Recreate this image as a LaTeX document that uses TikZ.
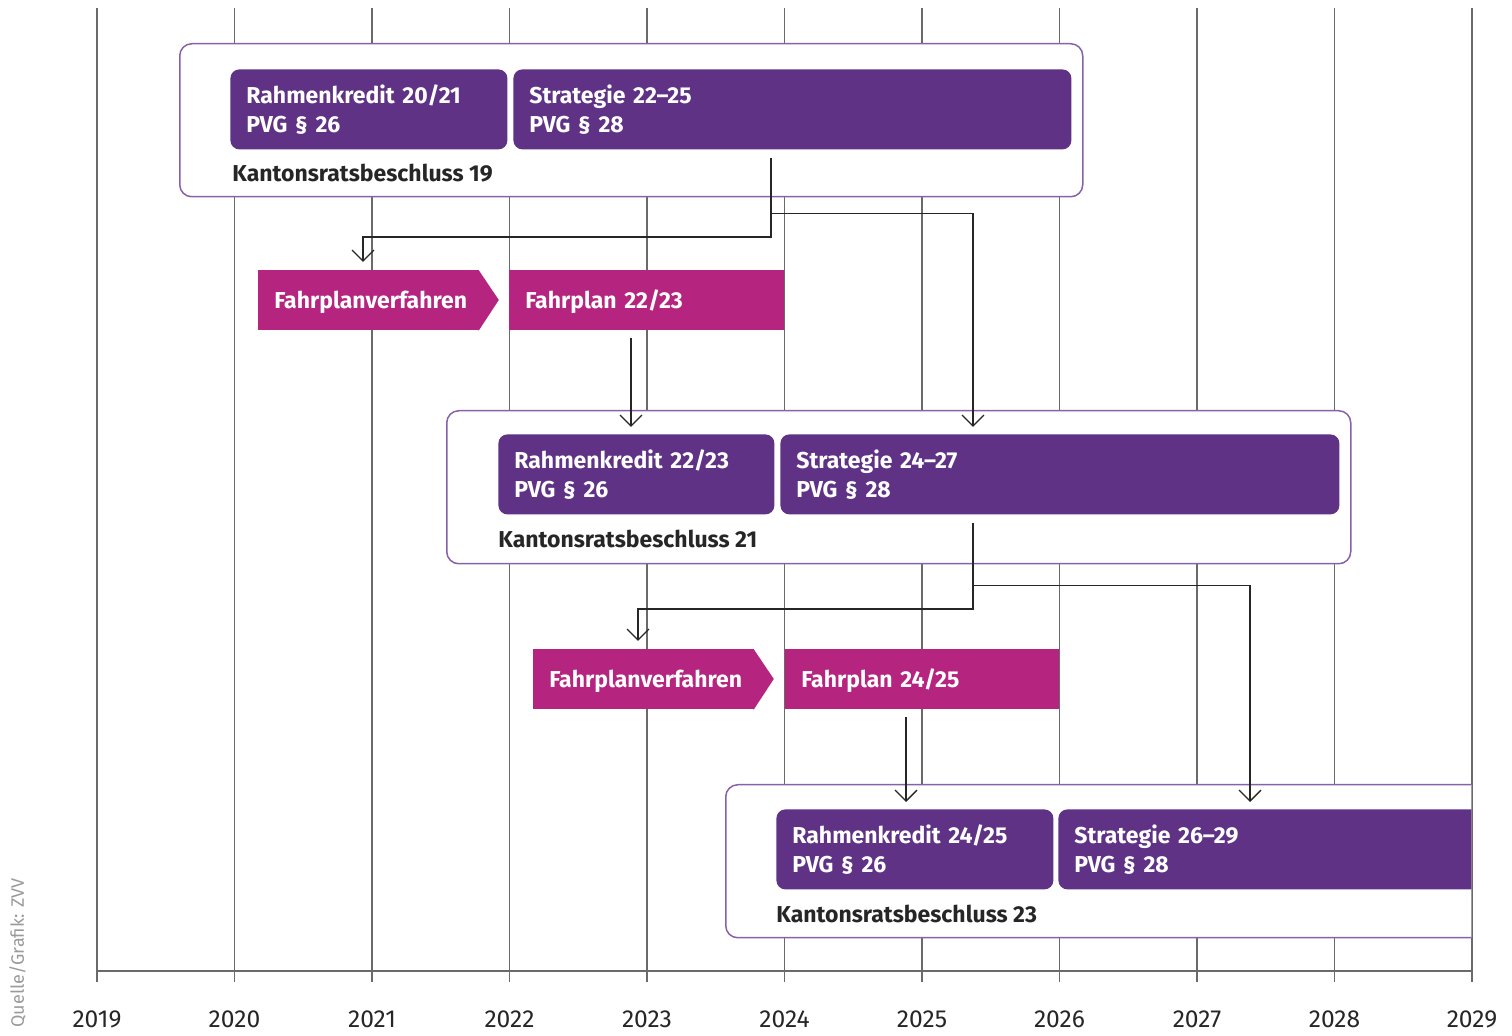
\documentclass[tikz,border=0pt]{standalone}
\usepackage{fontspec}
\setmainfont{Fira Sans}
\usetikzlibrary{arrows.meta}
\definecolor{boxpurple}{HTML}{5F3285}
\definecolor{frameviolet}{HTML}{8762A8}
\definecolor{fpmagenta}{HTML}{B5247F}
\definecolor{gridgray}{HTML}{6A6A6A}
\definecolor{inktext}{HTML}{262626}
\definecolor{creditgray}{HTML}{9A9A9A}

\tikzset{
  gridline/.style={draw=gridgray, line width=0.6pt},
  frame/.style={draw=frameviolet, line width=0.75pt, fill=white, rounded corners=6pt,
    anchor=north west, inner sep=0pt, minimum height=76.5pt},
  pbox/.style={fill=boxpurple, text=white, rounded corners=4.5pt, anchor=north west,
    minimum height=40pt, inner xsep=8pt, inner ysep=0pt, align=left,
    font=\bfseries\fontsize{11.5}{14.5}\selectfont},
  fpbar/.style={fill=fpmagenta, text=white, anchor=north west, minimum height=30pt,
    inner xsep=8pt, inner ysep=0pt, align=left, text height=10pt, text depth=2pt,
    font=\bfseries\fontsize{11.5}{13}\selectfont},
  decision/.style={anchor=base west, inner sep=0pt, text=inktext,
    font=\bfseries\fontsize{11.5}{13}\selectfont},
  year/.style={anchor=base, inner sep=0pt, text=inktext, font=\fontsize{12.3}{14}\selectfont},
  link/.style={draw=black!85, line width=0.65pt, -{Straight Barb[length=5.5pt,width=11pt]}},
}

\begin{document}
\begin{tikzpicture}[x=0.5pt,y=-0.5pt]
\useasboundingbox (0,0) rectangle (1512,1036);

% year grid and time axis
\foreach \i in {0,...,10}{
  \pgfmathsetmacro{\xx}{97+137.5*\i}
  \pgfmathtruncatemacro{\yr}{2019+\i}
  \draw[gridline] (\xx,8) -- (\xx,982);
  \node[year] (yr\i) at (\xx,1028) {\yr};
}
\draw[gridline] (97,971) -- (1472,971);

\node[rotate=90, anchor=base west, inner sep=0pt, text=creditgray,
  font=\fontsize{9}{10}\selectfont] (credit) at (24,1028) {Quelle/Grafik: ZVV};

% Kantonsratsbeschluss 19
\node[frame, minimum width=451.5pt] (k19) at (179,43) {};
\node[pbox, text width=122.5pt] (r20) at (230,69) {Rahmenkredit 20/21\\PVG § 26};
\node[pbox, text width=263pt] (s22) at (513,69) {Strategie 22–25\\PVG § 28};
\node[decision] (k19t) at (232,182) {Kantonsratsbeschluss 19};

% Fahrplan 22/23
\node[fpbar, text width=94.5pt] (f1) at (258,270) {Fahrplanverfahren};
\fill[fpmagenta] ([xshift=-0.6pt]f1.north east) -- ([xshift=9.5pt,yshift=-15pt]f1.north east)
  -- ([xshift=-0.6pt]f1.south east) -- cycle;
\node[fpbar, text width=121.5pt] (fp22) at (509,270) {Fahrplan 22/23};

% Kantonsratsbeschluss 21
\node[frame, minimum width=452pt] (k21) at (446,410) {};
\node[pbox, text width=122pt] (r22) at (498,434) {Rahmenkredit 22/23\\PVG § 26};
\node[pbox, text width=263.5pt] (s24) at (780,434) {Strategie 24–27\\PVG § 28};
\node[decision] (k21t) at (498,548) {Kantonsratsbeschluss 21};

% Fahrplan 24/25
\node[fpbar, text width=94.5pt] (f2) at (533,649) {Fahrplanverfahren};
\fill[fpmagenta] ([xshift=-0.6pt]f2.north east) -- ([xshift=9.5pt,yshift=-15pt]f2.north east)
  -- ([xshift=-0.6pt]f2.south east) -- cycle;
\node[fpbar, text width=121pt] (fp24) at (785,649) {Fahrplan 24/25};

% Kantonsratsbeschluss 23, cut off at the 2029 line
\begin{scope}
  \clip (0,0) rectangle (1471.4,1036);
  \node[frame, minimum width=400pt] (k23) at (725,784) {};
  \node[pbox, text width=122.5pt] (r24) at (776,809) {Rahmenkredit 24/25\\PVG § 26};
  \node[pbox, text width=205pt] (s26) at (1058,809) {Strategie 26–29\\PVG § 28};
\end{scope}
\node[decision] (k23t) at (776,923) {Kantonsratsbeschluss 23};

% connectors
\draw[link] ([xshift=129pt,yshift=-4pt]s22.south west) |- ([xshift=52.5pt,yshift=16.5pt]f1.north west)
  -- ([xshift=52.5pt,yshift=4pt]f1.north west);
\draw[link] ([xshift=129pt,yshift=-32pt]s22.south west) -| ([xshift=96.5pt,yshift=3.5pt]s24.north west);
\draw[link] ([xshift=61pt,yshift=-3.5pt]fp22.south west) -- ([xshift=66.5pt,yshift=3.5pt]r22.north west);
\draw[link] ([xshift=96.5pt,yshift=-4pt]s24.south west) |- ([xshift=52.5pt,yshift=20pt]f2.north west)
  -- ([xshift=52.5pt,yshift=4pt]f2.north west);
\draw[link] ([xshift=96.5pt,yshift=-35.5pt]s24.south west) -| ([xshift=96pt,yshift=3.5pt]s26.north west);
\draw[link] ([xshift=60.5pt,yshift=-3.5pt]fp24.south west) -- ([xshift=65pt,yshift=3.5pt]r24.north west);
\end{tikzpicture}
\end{document}
